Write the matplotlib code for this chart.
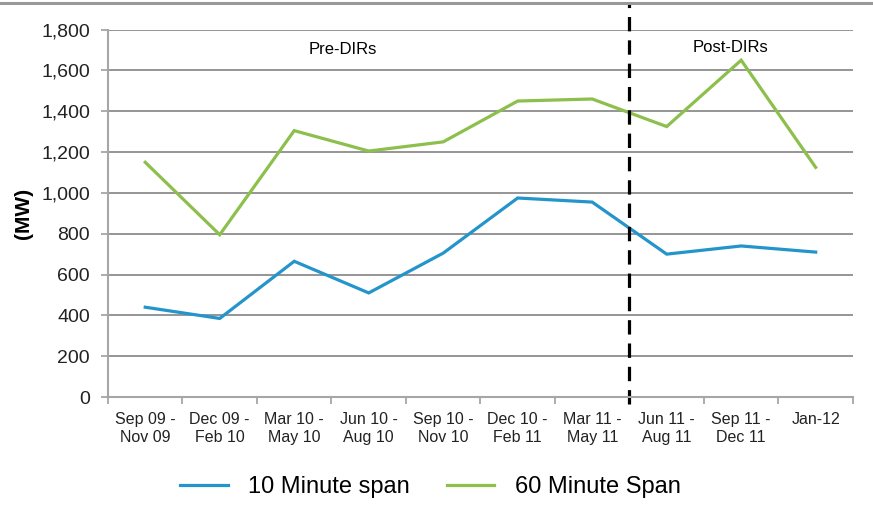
import matplotlib
matplotlib.use("Agg")
import matplotlib.pyplot as plt
from matplotlib.lines import Line2D

plt.rcParams['font.family'] = ['Liberation Sans', 'DejaVu Sans']

periods = ["Sep 09 -\nNov 09", "Dec 09 -\nFeb 10", "Mar 10 -\nMay 10", "Jun 10 -\nAug 10",
           "Sep 10 -\nNov 10", "Dec 10 -\nFeb 11", "Mar 11 -\nMay 11", "Jun 11 -\nAug 11",
           "Sep 11 -\nDec 11", "Jan-12"]
span_10 = [440, 385, 665, 510, 705, 975, 955, 700, 740, 710]
span_60 = [1150, 795, 1305, 1205, 1250, 1450, 1460, 1325, 1650, 1125]
y_ticks = [0, 200, 400, 600, 800, 1000, 1200, 1400, 1600, 1800]

blue = "#2495CB"
green = "#8CBF4C"
grid_col = "#8c8c8c"
spine_col = "#a6a6a6"

fig = plt.figure(figsize=(8.73, 5.19), dpi=100)
ax = fig.add_axes([0.1237, 0.235, 0.8533, 0.708])

x = list(range(len(periods)))
ax.plot(x, span_10, color=blue, lw=2.3, label="10 Minute span", solid_joinstyle="miter")
ax.plot(x, span_60, color=green, lw=2.3, label="60 Minute Span", solid_joinstyle="miter")

ax.set_xlim(-0.5, len(periods) - 0.5)
ax.set_ylim(0, 1800)
ax.set_yticks(y_ticks)
ax.set_yticklabels([f"{v:,}" for v in y_ticks])
ax.yaxis.grid(True, color=grid_col, lw=1.3)
ax.set_axisbelow(True)

# ticks on category boundaries, labels at centres
ax.set_xticks([i - 0.5 for i in range(len(periods) + 1)])
ax.set_xticklabels([])
ax.set_xticks(x, minor=True)
ax.set_xticklabels(periods, minor=True, fontsize=11.5, color="#222222", linespacing=1.25)
ax.tick_params(axis="x", which="major", length=5, color=spine_col, width=1.3)
ax.tick_params(axis="x", which="minor", length=0, pad=11)
ax.tick_params(axis="y", length=5, color=spine_col, width=1.3, labelsize=14,
               labelcolor="#222222", pad=8)

for s in ["top", "right"]:
    ax.spines[s].set_visible(False)
for s in ["left", "bottom"]:
    ax.spines[s].set_color(spine_col)
    ax.spines[s].set_linewidth(1.5)

ax.set_ylabel("(MW)", fontsize=15, fontweight="bold", labelpad=6)

# DIRs divider
ax.axvline(6.5, ymin=-0.02, ymax=1.072, color="black", lw=2.3, ls=(0, (4.5, 2.8)),
           clip_on=False)
ax.text(2.65, 1700, "Pre-DIRs", ha="center", va="center", fontsize=12)
ax.text(7.85, 1710, "Post-DIRs", ha="center", va="center", fontsize=12)

# top border
fig.add_artist(Line2D([0, 1], [0.994, 0.994], color="#999999", lw=2.2))

fig.legend(loc="center", bbox_to_anchor=(0.493, 0.062), ncol=2, frameon=False,
           fontsize=17, handlelength=2.0, columnspacing=1.6, handletextpad=0.85)

fig.savefig("out.png", dpi=100)
